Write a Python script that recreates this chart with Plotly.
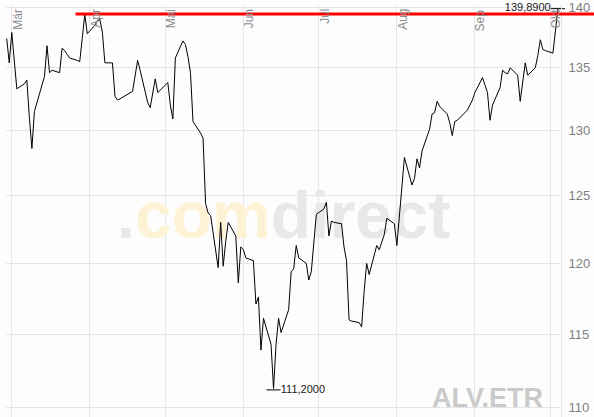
import math
import pandas as pd
import plotly.graph_objects as go

# ---- data (ALV.ETR, 2006) ----
dates = [
    "2006-02-27", "2006-02-28", "2006-03-01", "2006-03-02", "2006-03-03",
    "2006-03-06", "2006-03-07", "2006-03-08", "2006-03-09", "2006-03-10",
    "2006-03-13", "2006-03-14", "2006-03-15", "2006-03-16", "2006-03-17",
    "2006-03-20", "2006-03-21", "2006-03-22", "2006-03-23", "2006-03-24",
    "2006-03-27", "2006-03-28", "2006-03-29", "2006-03-30", "2006-03-31",
    "2006-04-03", "2006-04-04", "2006-04-05", "2006-04-06", "2006-04-07",
    "2006-04-10", "2006-04-11", "2006-04-12", "2006-04-13",
    "2006-04-18", "2006-04-19", "2006-04-20", "2006-04-21",
    "2006-04-24", "2006-04-25", "2006-04-26", "2006-04-27", "2006-04-28",
    "2006-05-02", "2006-05-03", "2006-05-04", "2006-05-05",
    "2006-05-08", "2006-05-09", "2006-05-10", "2006-05-11", "2006-05-12",
    "2006-05-15", "2006-05-16", "2006-05-17", "2006-05-18", "2006-05-19",
    "2006-05-22", "2006-05-23", "2006-05-24", "2006-05-25", "2006-05-26",
    "2006-05-29", "2006-05-30", "2006-05-31", "2006-06-01", "2006-06-02",
    "2006-06-05", "2006-06-06", "2006-06-07", "2006-06-08", "2006-06-09",
    "2006-06-12", "2006-06-13", "2006-06-14", "2006-06-15", "2006-06-16",
    "2006-06-19", "2006-06-20", "2006-06-21", "2006-06-22", "2006-06-23",
    "2006-06-26", "2006-06-27", "2006-06-28", "2006-06-29", "2006-06-30",
    "2006-07-03", "2006-07-04", "2006-07-05", "2006-07-06", "2006-07-07",
    "2006-07-10", "2006-07-11", "2006-07-12", "2006-07-13", "2006-07-14",
    "2006-07-17", "2006-07-18", "2006-07-19", "2006-07-20", "2006-07-21",
    "2006-07-24", "2006-07-25", "2006-07-26", "2006-07-27", "2006-07-28",
    "2006-07-31", "2006-08-01", "2006-08-02", "2006-08-03", "2006-08-04",
    "2006-08-07", "2006-08-08", "2006-08-09", "2006-08-10", "2006-08-11",
    "2006-08-14", "2006-08-15", "2006-08-16", "2006-08-17", "2006-08-18",
    "2006-08-21", "2006-08-22", "2006-08-23", "2006-08-24", "2006-08-25",
    "2006-08-28", "2006-08-29", "2006-08-30", "2006-08-31", "2006-09-01",
    "2006-09-04", "2006-09-05", "2006-09-06", "2006-09-07", "2006-09-08",
    "2006-09-11", "2006-09-12", "2006-09-13", "2006-09-14", "2006-09-15",
    "2006-09-18", "2006-09-19", "2006-09-20", "2006-09-21", "2006-09-22",
    "2006-09-25", "2006-09-26", "2006-09-27", "2006-09-28", "2006-09-29",
    "2006-10-02", "2006-10-03", "2006-10-04",
]
close = [
    137.4, 135.4, 137.9, 135.6, 133.3,
    133.7, 134.0, 131.0, 128.6, 131.5,
    133.5, 134.3, 136.8, 134.6, 134.8,
    134.6, 136.6, 136.4, 136.1, 135.8,
    135.6, 135.5, 137.4, 139.4, 137.8,
    138.5, 138.9, 139.0, 137.9, 135.4,
    135.4, 132.7, 132.4, 132.5,
    133.1, 134.4, 135.6, 134.8,
    132.2, 131.8, 132.8, 134.1, 133.0,
    133.8, 132.0, 130.9, 135.8,
    137.2, 136.9, 135.9, 134.6, 130.7,
    129.8, 129.4, 124.4, 123.7, 123.5,
    119.7, 123.0, 119.8, 121.6, 123.0,
    122.0, 118.6, 121.2, 121.0, 120.4,
    120.2, 117.1, 117.6, 113.9, 116.1,
    114.3, 111.3, 114.3, 116.1, 115.1,
    116.7, 119.4, 119.6, 121.3, 120.4,
    120.0, 118.8, 119.4, 121.3, 123.6,
    124.0, 124.5, 122.0, 123.1, 123.0,
    122.9, 121.2, 120.2, 116.0, 115.9,
    115.8, 115.5, 118.0, 120.0, 119.2,
    121.3, 121.0, 121.5, 122.1, 123.3,
    122.9, 121.3, 123.4, 125.4, 127.9,
    125.8, 126.3, 127.8, 127.1, 128.4,
    130.1, 131.3, 131.4, 132.3, 131.9,
    131.3, 130.6, 129.6, 130.7, 130.8,
    131.4, 131.6, 132.0, 132.4, 133.0,
    134.2, 133.6, 133.0, 130.8, 132.0,
    133.4, 134.8, 134.6, 134.5, 135.0,
    134.4, 132.3, 134.0, 135.4, 134.4,
    135.0, 136.0, 137.3, 136.5, 136.4,
    136.2, 138.3, 139.89,
]

month_starts = ["2006-03-01", "2006-04-01", "2006-05-01", "2006-06-01",
                "2006-07-01", "2006-08-01", "2006-09-01", "2006-10-01"]
month_labels = ["Mär", "Apr", "Mai", "Jun", "Jul", "Aug", "Sep", "Okt"]
y_ticks = [110, 115, 120, 125, 130, 135, 140]

min_date, min_value, min_label = "2006-06-13", 111.2, "111,2000"
max_date, max_value, max_label = "2006-10-04", 139.89, "139,8900"
resist_level, resist_start = 139.45, "2006-03-26 08:00"

x_range = ["2006-02-26 17:00", "2006-10-05 05:00"]
y_range = [109.4, 140.2]

wm_date, wm_value = "2006-06-17", 123.1

# ---- styling ----
FONT = "Liberation Sans, Arial, sans-serif"
GRID = "#E6E3EA"
BG = "#FCFDFC"

fig = go.Figure()

# watermark (drawn first so the price line sits on top)
fig.add_trace(go.Scatter(
    x=[wm_date], y=[wm_value], mode="text",
    text=['.<span style="color:#FDF3D4">com</span>direct'],
    textposition="middle center",
    textfont=dict(family=FONT, size=66, color="#E8E8E8", weight="bold"),
    hoverinfo="skip", showlegend=False,
))

fig.add_trace(go.Scatter(
    x=dates, y=close, mode="lines",
    line=dict(color="#000000", width=1),
    showlegend=False,
))

fig.add_trace(go.Scatter(
    x=[min_date], y=[min_value], mode="markers+text",
    marker=dict(symbol="line-ew", size=10, line=dict(color="#000000", width=1)),
    text=[min_label], textposition="middle right",
    textfont=dict(family=FONT, size=11, color="#222222"),
    cliponaxis=False, showlegend=False,
))
fig.add_trace(go.Scatter(
    x=[max_date], y=[max_value], mode="markers+text",
    marker=dict(symbol="line-ew", size=10, line=dict(color="#000000", width=1)),
    text=[max_label], textposition="middle left",
    textfont=dict(family=FONT, size=11, color="#222222"),
    cliponaxis=False, showlegend=False,
))

# red resistance line from its start date to the right edge of the picture
t0, t1 = pd.Timestamp(x_range[0]), pd.Timestamp(x_range[1])
x0_frac = (pd.Timestamp(resist_start) - t0) / (t1 - t0)
fig.add_shape(type="line", xref="paper", yref="y",
              x0=x0_frac, x1=1.07,
              y0=resist_level, y1=resist_level,
              line=dict(color="#FF0000", width=3))

annotations = []
for ms, lab in zip(month_starts, month_labels):
    annotations.append(dict(
        x=ms, y=1, xref="x", yref="paper", text=lab, textangle=-90,
        xanchor="center", yanchor="top", showarrow=False,
        xshift=5.5, yshift=-2,
        font=dict(family=FONT, size=12, color="#8C8C8C"),
    ))
annotations.append(dict(
    x=0.868, y=0.045, xref="paper", yref="paper", text="ALV.ETR",
    showarrow=False, xanchor="center", yanchor="middle",
    font=dict(family=FONT, size=27, color="#CACACA", weight="bold"),
))

fig.update_layout(
    width=594, height=417,
    margin=dict(l=6, r=33, t=5, b=0),
    paper_bgcolor=BG, plot_bgcolor=BG,
    font=dict(family=FONT),
    annotations=annotations,
    xaxis=dict(
        type="date", range=x_range, tickvals=month_starts,
        showticklabels=False, showgrid=True, gridcolor=GRID, gridwidth=1,
        zeroline=False, showline=False, ticks="",
    ),
    yaxis=dict(
        type="log", range=[math.log10(y_range[0]), math.log10(y_range[1])],
        side="right", tickvals=y_ticks, ticktext=[str(v) for v in y_ticks],
        showgrid=True, gridcolor=GRID, gridwidth=1,
        showline=True, linecolor=GRID, ticks="",
        ticklabelstandoff=4, ticklabeloverflow="allow",
        tickfont=dict(family=FONT, size=13, color="#7F7F7F"),
        zeroline=False,
    ),
)

fig.write_html(
    "out.html",
    config={"displayModeBar": False},
    post_script="document.body.style.margin='0';document.body.style.overflow='hidden';",
)
